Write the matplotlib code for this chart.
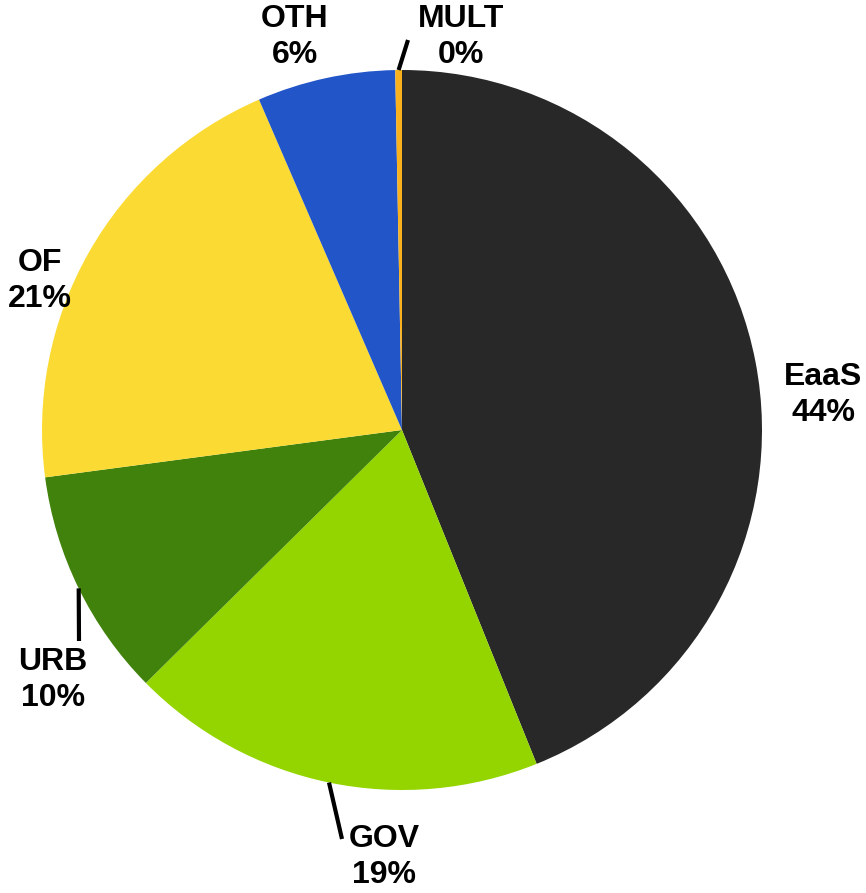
import numpy as np
import matplotlib.pyplot as plt

# share of projects by category (percent)
labels = ['EaaS', 'GOV', 'URB', 'OF', 'OTH', 'MULT']
shares = [43.9, 18.7, 10.3, 20.6, 6.2, 0.3]
pct_text = ['44%', '19%', '10%', '21%', '6%', '0%']
colors = ['#282828', '#94d500', '#40820c', '#fbdb33', '#2255c8', '#f9b21d']

# layout in pixels, y measured from the top
W, H = 866, 893
center = (402, 430)
radius = 360
label_xy = {'EaaS': (823, 395), 'GOV': (384, 857), 'URB': (53, 680),
            'OF': (40, 281), 'OTH': (295, 37), 'MULT': (461, 37)}
leader_end = {'GOV': (342, 839), 'URB': (79, 641), 'MULT': (408, 40)}

plt.rcParams['font.family'] = ['Liberation Sans', 'DejaVu Sans']

fig = plt.figure(figsize=(W / 100, H / 100), dpi=100)
ax = fig.add_axes([0, 0, 1, 1])

# y runs downward, so counterclock=True draws the slices clockwise on screen
wedges, _ = ax.pie(shares, colors=colors, startangle=-90, counterclock=True,
                   center=center, radius=radius, frame=True,
                   wedgeprops=dict(linewidth=0, antialiased=True))
ax.set_xlim(0, W)
ax.set_ylim(H, 0)
ax.set_aspect('equal')
ax.axis('off')

for w, lab, pct in zip(wedges, labels, pct_text):
    tx, ty = label_xy[lab]
    ax.text(tx, ty, f'{lab}\n{pct}', ha='center', va='center',
            fontsize=23, fontweight='bold', linespacing=1.3)
    if lab in leader_end:
        mid = np.deg2rad((w.theta1 + w.theta2) / 2)
        x0 = center[0] + radius * np.cos(mid)
        y0 = center[1] + radius * np.sin(mid)
        ex, ey = leader_end[lab]
        ax.plot([x0, ex], [y0, ey], color='black', lw=3, solid_capstyle='butt')

fig.savefig('out.png', dpi=100)
